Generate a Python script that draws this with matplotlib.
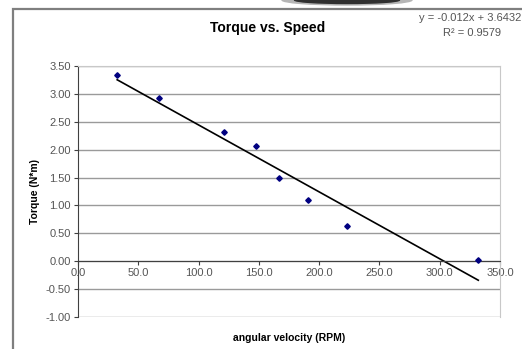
import numpy as np
import matplotlib
matplotlib.use("Agg")
import matplotlib.pyplot as plt
from matplotlib.patches import Rectangle, Ellipse

#%% Data
speed = [32.5, 67, 121, 148, 167, 191, 223, 332]  # [RPM]
torque = [3.33, 2.92, 2.32, 2.06, 1.49, 1.10, 0.64, 0.02]  # [N*m]

# Excel trendline (linear)
slope = -0.012
intercept = 3.6432
r2 = 0.9579

x_ticks = np.arange(0, 351, 50)
y_ticks = np.arange(-1.0, 3.51, 0.5)

#%% Plotting
plt.rcParams['font.family'] = ['Liberation Sans', 'DejaVu Sans']

fig = plt.figure(figsize=(5.22, 3.49), dpi=100)
fig.patch.set_facecolor('white')

# outer chart border (right/bottom edges fall outside the picture)
fig.patches.append(Rectangle((13/522, -0.2), 1.2, 1 - 9/349 + 0.2,
                             transform=fig.transFigure, fill=False,
                             edgecolor='#7f7f7f', lw=1.6))
# dark shadow blob at top edge
fig.patches.append(Ellipse((347/522, 1.0), 130/522, 10/349,
                           transform=fig.transFigure, color='#b5b5b5'))
fig.patches.append(Ellipse((347/522, 1.0), 105/522, 7/349,
                           transform=fig.transFigure, color='#303030'))

ax = fig.add_axes([78/522, 1 - 317/349, 422/522, 251/349])

ax.plot(speed, torque, linestyle='none', marker='D', markersize=2.8,
        color='#000080', zorder=3)

x_fit = np.array([min(speed), max(speed)])
ax.plot(x_fit, slope * x_fit + intercept, color='black', lw=1.2, zorder=2)

ax.set_xlim(0, 350)
ax.set_ylim(-1.0, 3.5)
ax.set_xticks(x_ticks)
ax.set_yticks(y_ticks)
ax.set_xticklabels([f"{v:.1f}" for v in x_ticks])
ax.set_yticklabels([f"{v:.2f}" for v in y_ticks])

for yv in y_ticks:
    ax.axhline(yv, color='#9a9a9a', lw=1.0, zorder=0)

ax.spines['bottom'].set_position(('data', 0))
ax.spines['bottom'].set_color('#404040')
ax.spines['left'].set_color('#404040')
ax.spines['top'].set_color('#c8c8c8')
ax.spines['right'].set_color('#c8c8c8')

ax.tick_params(axis='both', direction='out', length=3, width=0.8,
               colors='#404040', labelsize=8, labelcolor='#555555')
ax.tick_params(axis='x', pad=2)
ax.tick_params(axis='y', pad=2)

ax.set_xlabel("angular velocity (RPM)", fontsize=7.5, fontweight='bold')
ax.xaxis.set_label_coords(0.5, -0.065)
ax.set_ylabel("Torque (N*m)", fontsize=7.5, fontweight='bold', labelpad=4)

fig.text(268/522, 1 - 28/349, "Torque vs. Speed", ha='center', va='center',
         fontsize=10, fontweight='bold')
fig.text(470/522, 1 - 18/349, f"y = {slope}x + {intercept}",
         ha='center', va='center', fontsize=8, color='#555555')
fig.text(472/522, 1 - 33/349, f"R² = {r2}",
         ha='center', va='center', fontsize=8, color='#555555')

fig.savefig("out.png", dpi=100)
